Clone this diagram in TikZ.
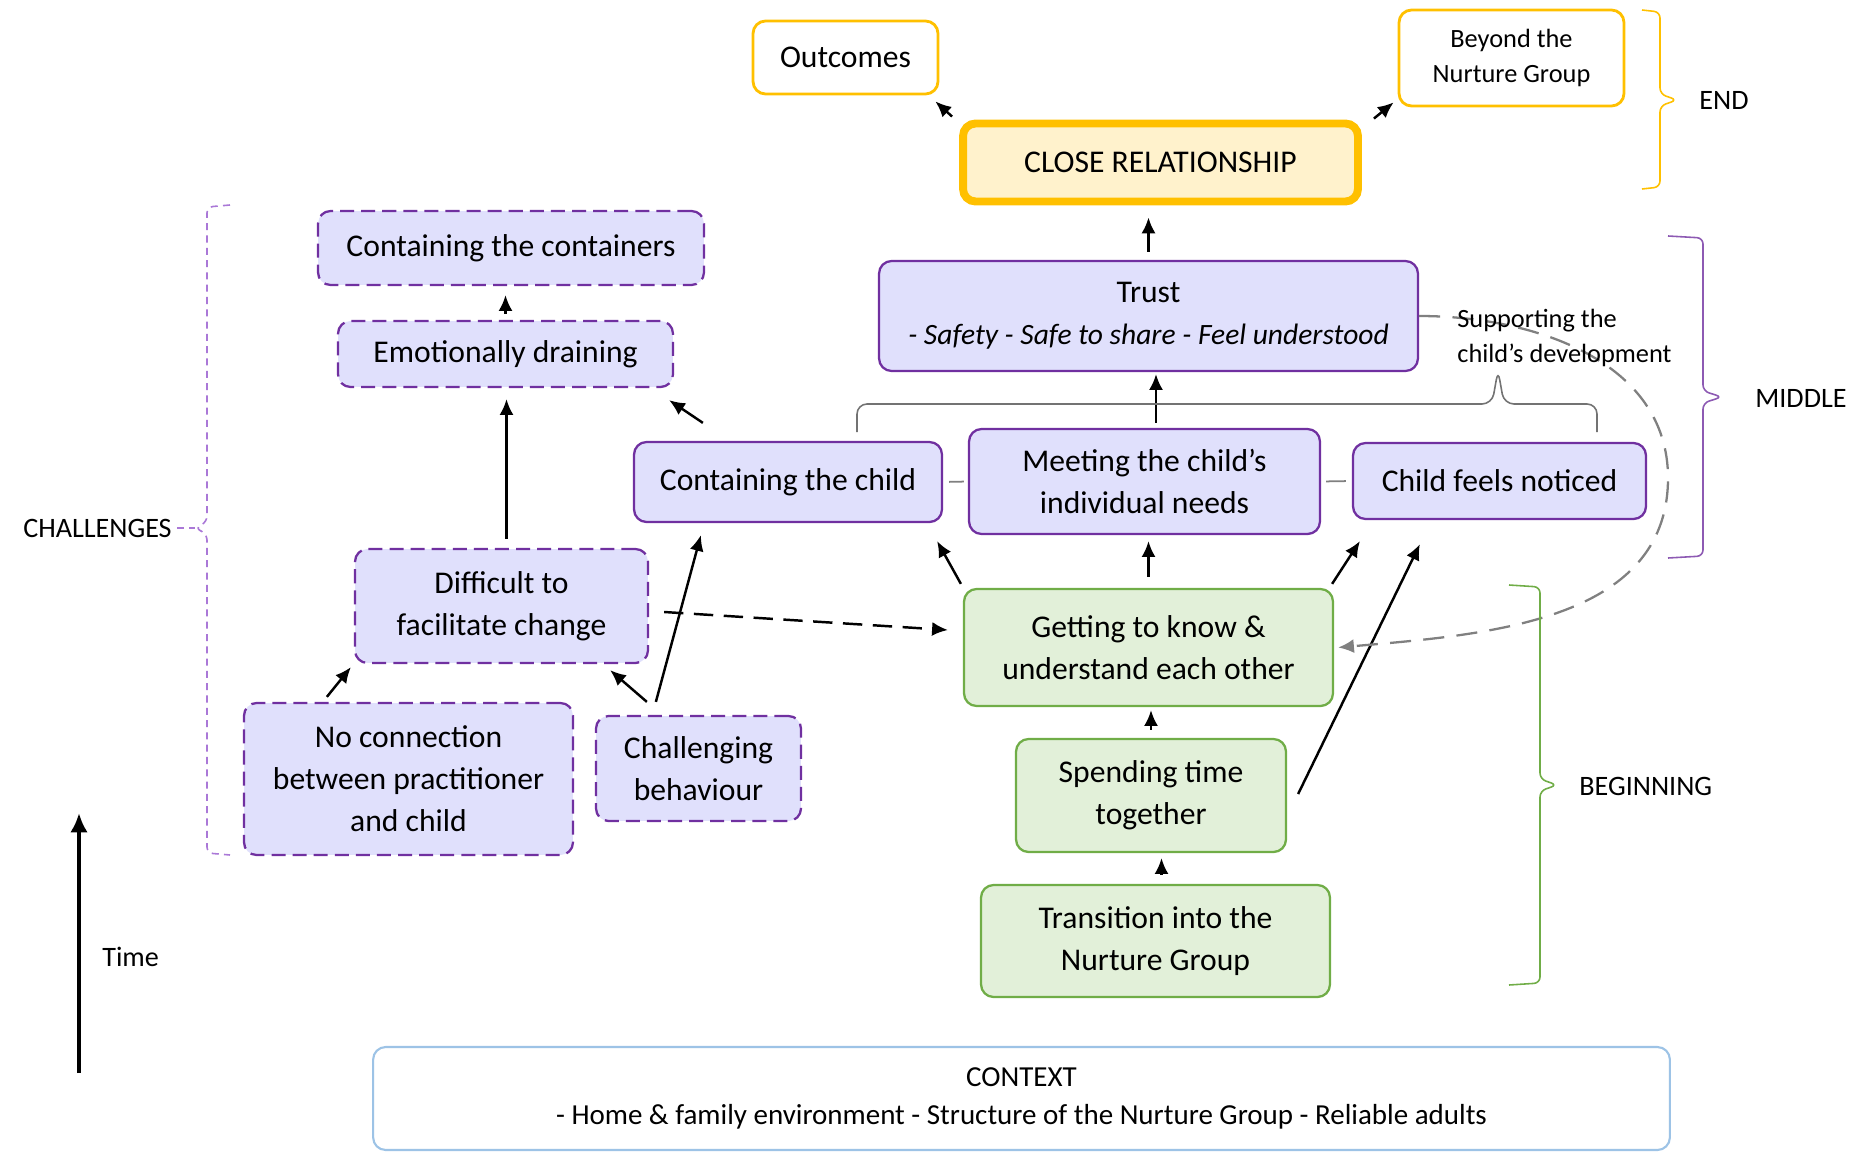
\documentclass[tikz,border=0pt]{standalone}
\usepackage{fontspec}
\setmainfont{Carlito}
\usetikzlibrary{arrows.meta}

\definecolor{nglavender}{RGB}{224,224,252}
\definecolor{ngpurple}{RGB}{112,48,160}
\definecolor{nglilac}{RGB}{170,120,215}
\definecolor{ngmint}{RGB}{226,240,217}
\definecolor{nggreen}{RGB}{112,173,71}
\definecolor{nggold}{RGB}{255,192,0}
\definecolor{ngcream}{RGB}{255,242,204}
\definecolor{ngsky}{RGB}{157,195,230}
\definecolor{nggrey}{RGB}{128,128,128}

\tikzset{
  stage/.style={draw, rounded corners=0.25cm, align=center, inner sep=0pt,
    font=\fontsize{18}{24}\selectfont, line width=1.3pt},
  middlebox/.style={stage, draw=ngpurple, fill=nglavender},
  challbox/.style={middlebox, dash pattern=on 8pt off 4pt},
  startbox/.style={stage, draw=nggreen, fill=ngmint},
  endbox/.style={stage, draw=nggold, fill=white, line width=1.6pt},
  link/.style={-{Latex[length=9pt,width=8pt]}, line width=1.4pt},
  brace/.style={rounded corners=0.12cm, line width=0.9pt},
  phase/.style={inner sep=0pt, font=\fontsize{16}{20}\selectfont},
}

\begin{document}
\begin{tikzpicture}[x=0.02cm, y=-0.02cm]
  \useasboundingbox (0,0) rectangle (1872,1152);

  % end
  \path
  (845.5,57.5) node[endbox, minimum width=3.7cm, minimum height=1.46cm] (outcomes) {Outcomes}
  (1511.5,58) node[endbox, minimum width=4.5cm, minimum height=1.92cm,
     font=\fontsize{15}{19.5}\selectfont] (beyond) {Beyond the\\Nurture Group}
  (1160.5,162.5) node[stage, draw=nggold, fill=ngcream, line width=4.5pt,
     minimum width=7.9cm, minimum height=1.56cm] (close) {CLOSE RELATIONSHIP};

  % middle
  \path
  (1148.5,316) node[middlebox, minimum width=10.78cm, minimum height=2.2cm] (trust)
     {Trust\\\fontsize{16.8}{24}\selectfont\textit{- Safety - Safe to share - Feel understood}}
  (788,482) node[middlebox, minimum width=6.16cm, minimum height=1.6cm] (contchild) {Containing the child}
  (1144.5,481.5) node[middlebox, minimum width=7.02cm, minimum height=2.1cm] (meeting)
     {Meeting the child’s\\individual needs}
  (1499.5,481) node[middlebox, minimum width=5.86cm, minimum height=1.52cm] (noticed) {Child feels noticed};

  % beginning
  \path
  (1148.5,647.5) node[startbox, minimum width=7.38cm, minimum height=2.34cm] (getting)
     {Getting to know \&\\understand each other}
  (1151,795.5) node[startbox, minimum width=5.4cm, minimum height=2.26cm] (spending) {Spending time\\together}
  (1155.5,941) node[startbox, minimum width=6.98cm, minimum height=2.24cm] (transition)
     {Transition into the\\Nurture Group};

  % challenges
  \path
  (511,248) node[challbox, minimum width=7.72cm, minimum height=1.48cm] (containers) {Containing the containers}
  (505.5,354) node[challbox, minimum width=6.7cm, minimum height=1.32cm] (draining) {Emotionally draining}
  (501.5,606) node[challbox, minimum width=5.86cm, minimum height=2.28cm] (difficult) {Difficult to\\facilitate change}
  (408.5,779) node[challbox, minimum width=6.58cm, minimum height=3.04cm] (noconn)
     {No connection\\between practitioner\\and child}
  (698.5,768.5) node[challbox, minimum width=4.1cm, minimum height=2.1cm] (challbeh) {Challenging\\behaviour};

  % context
  \path
  (1021.5,1098.5) node[stage, draw=ngsky, fill=white, line width=1.2pt,
     minimum width=25.94cm, minimum height=2.06cm, font=\fontsize{16.5}{22}\selectfont] (context)
     {CONTEXT\\- Home \& family environment - Structure of the Nurture Group - Reliable adults};

  % arrows
  \draw[link] ([xshift=-0.14cm,yshift=0.06cm]close.north west) -- ([xshift=-0.08cm,yshift=-0.12cm]outcomes.south east);
  \draw[link] ([xshift=0.24cm,yshift=0.02cm]close.north east) -- ([xshift=-0.08cm,yshift=0.1cm]beyond.south west);
  \draw[link, shorten <=0.16cm, shorten >=0.24cm] (trust.north) -- (trust.north |- close.south);
  \draw[link, shorten <=0.1cm, shorten >=0.04cm] ([xshift=0.23cm]meeting.north) -- ([xshift=0.23cm]meeting.north |- trust.south);
  \draw[link, shorten <=0.22cm, shorten >=0.12cm] (getting.north) -- (getting.north |- meeting.south);
  \draw[link] ([xshift=-0.04cm,yshift=0.08cm]getting.north west) -- ([xshift=-0.12cm,yshift=-0.36cm]contchild.south east);
  \draw[link] ([xshift=-0.04cm,yshift=0.08cm]getting.north east) -- ([xshift=0.16cm,yshift=-0.42cm]noticed.south west);
  \draw[link, shorten <=0.16cm, shorten >=0.06cm] (spending.north) -- (spending.north |- getting.south);
  \draw[link, shorten <=0.18cm, shorten >=0.1cm] ([xshift=0.12cm]transition.north) -- ([xshift=0.12cm]transition.north |- spending.south);
  \draw[link] ([xshift=0.22cm,yshift=0.03cm]spending.east) -- ([xshift=1.36cm,yshift=-0.48cm]noticed.south west);

  \draw[link, shorten <=0.12cm, shorten >=0.18cm] (draining.north) -- (draining.north |- containers.south);
  \draw[link, shorten <=0.18cm, shorten >=0.22cm] ([xshift=0.1cm]difficult.north) -- ([xshift=0.1cm]difficult.north |- draining.south);
  \draw[link] ([xshift=1.4cm,yshift=0.36cm]contchild.north west) -- ([xshift=-0.1cm,yshift=-0.24cm]draining.south east);
  \draw[link] ([xshift=1.68cm,yshift=0.1cm]noconn.north west) -- ([xshift=-0.06cm,yshift=-0.06cm]difficult.south west);
  \draw[link] ([xshift=1.04cm,yshift=0.26cm]challbeh.north west) -- ([xshift=-0.78cm,yshift=-0.12cm]difficult.south east);
  \draw[link] ([xshift=1.22cm,yshift=0.26cm]challbeh.north west) -- ([xshift=1.36cm,yshift=-0.24cm]contchild.south west);
  \draw[link, dash pattern=on 11pt off 6pt] ([xshift=0.3cm,yshift=-0.12cm]difficult.east) -- ([xshift=-0.3cm,yshift=0.35cm]getting.west);

  % links in the middle row
  \draw[nggrey, line width=1pt, shorten <=0.12cm, shorten >=0.08cm] (contchild.east) -- (meeting.west);
  \draw[nggrey, line width=1pt, shorten <=0.1cm, shorten >=0.12cm] (meeting.east) -- (noticed.west);

  % supporting the child's development
  \draw[brace, nggrey!90!black, rounded corners=0.2cm] (857,432) -- (857,404) -- (1492,404) -- (1498,370)
     -- (1504,404) -- (1597,404) -- (1597,432);
  \draw[nggrey, line width=1.3pt, dash pattern=on 12pt off 7pt, -{Latex[length=9pt,width=8pt]}]
     (trust.east) to[out=0, in=90] (1668,478) to[out=-90, in=5] ([xshift=0.08cm]getting.east);
  \path (1457,338) node[anchor=west, align=left, inner sep=0pt, font=\fontsize{15}{20}\selectfont] (support)
     {Supporting the\\child’s development};

  % phases
  \draw[brace, nggold] (1642,10) -- (1660,12) -- (1660,94) -- (1677,100) -- (1660,106) -- (1660,187) -- (1642,189);
  \draw[brace, ngpurple!80] (1668,236) -- (1703,238) -- (1703,391) -- (1722,397) -- (1703,403) -- (1703,556) -- (1668,558);
  \draw[brace, nggreen] (1509,585) -- (1540,587) -- (1540,779) -- (1557,785) -- (1540,791) -- (1540,983) -- (1509,985);
  \draw[brace, nglilac, dash pattern=on 4pt off 3pt] (230,205) -- (207,207) -- (207,522) -- (195,528)
     -- (207,534) -- (207,853) -- (230,855);
  \path
  (1699,100) node[phase, anchor=west] (endlabel) {END}
  (1755,398) node[phase, anchor=west] (midlabel) {MIDDLE}
  (1579,786) node[phase, anchor=west] (beglabel) {BEGINNING}
  (172,528) node[phase, anchor=east] (challenges) {CHALLENGES};
  \draw[nglilac, line width=0.9pt, dash pattern=on 4pt off 3pt, shorten <=0.1cm] (challenges.east) -- (195,528);

  % time
  \coordinate (tstart) at (79,1073);
  \coordinate (tend) at (79,813);
  \draw[line width=2.3pt, -{Latex[length=11pt,width=10pt]}] (tstart) -- (tend);
  \path (102,957) node[phase, anchor=west] (time) {Time};
\end{tikzpicture}
\end{document}
